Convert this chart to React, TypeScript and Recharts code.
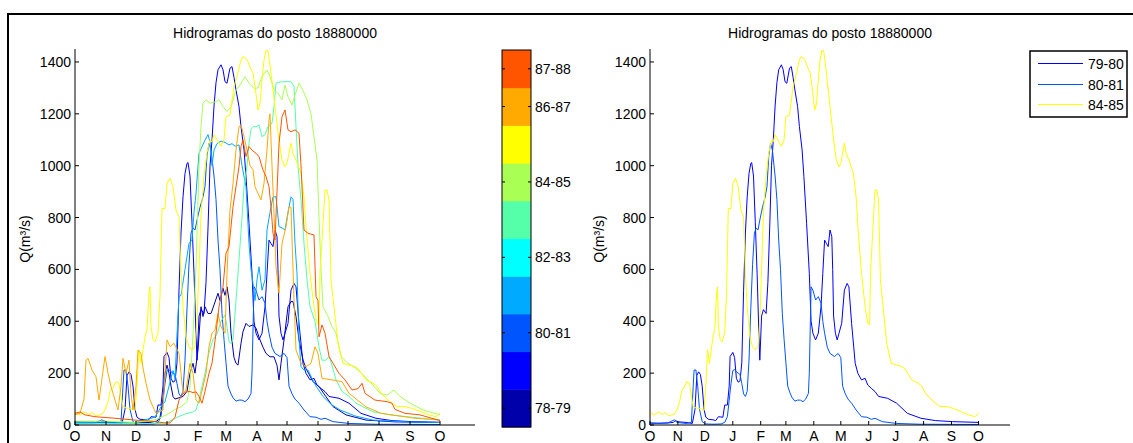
import React from 'react';
import { LineChart, Line, XAxis, YAxis } from 'recharts';

const FONT = '"Liberation Sans", Arial, Helvetica, sans-serif';

const monthTicks = [0, 31, 61, 92, 123, 151, 182, 212, 243, 273, 304, 335, 365];
const monthLabels = ['O', 'N', 'D', 'J', 'F', 'M', 'A', 'M', 'J', 'J', 'A', 'S', 'O'];
const yTicks = [0, 200, 400, 600, 800, 1000, 1200, 1400];
const titleText = 'Hidrogramas do posto 18880000';
const yLabelText = 'Q(m³/s)';

const jet10 = ['#0000AA', '#0000FF', '#0055FF', '#00AAFF', '#00FFFF', '#55FFAA', '#AAFF55', '#FFFF00', '#FFAA00', '#FF5500'];
const cbLabels: [number, string][] = [[0, '78-79'], [2, '80-81'], [4, '82-83'], [6, '84-85'], [8, '86-87'], [9, '87-88']];

// day since 1 Oct, Q (m3/s)
const q7879: [number, number][] = [[0,12],[15,11],[30,10],[45,9],[60,8],[75,10],[82,15],[85,30],[88,100],[90,200],[92,231],[94,200],[96,150],[98,110],[100,100],[104,105],[108,110],[112,130],[115,200],[118,238],[120,200],[123,289],[126,456],[128,418],[130,456],[133,430],[136,430],[139,463],[143,508],[145,480],[148,527],[150,500],[152,533],[154,482],[156,354],[159,260],[161,238],[163,231],[166,315],[168,360],[171,392],[174,380],[178,386],[181,373],[185,328],[188,300],[191,276],[195,263],[199,263],[202,230],[204,174],[206,238],[209,328],[213,456],[216,476],[218,476],[221,418],[224,328],[228,251],[231,218],[238,167],[244,148],[251,109],[258,71],[271,39],[291,19],[320,12],[365,10]];
const q7980: [number, number][] = [[0,8],[10,7],[20,8],[26,10],[28,17],[32,12],[40,10],[47,6],[50,60],[52,190],[54,205],[56,195],[58,150],[60,60],[62,30],[65,22],[70,20],[73,17],[76,32],[81,30],[83,77],[86,77],[88,150],[89,264],[92,280],[94,260],[96,180],[98,165],[100,170],[102,240],[104,520],[106,740],[108,880],[110,970],[112,1009],[113,1012],[115,960],[117,780],[119,585],[121,350],[122,250],[124,420],[126,445],[129,430],[131,550],[133,760],[135,1000],[137,1099],[139,1230],[141,1320],[143,1370],[146,1389],[148,1370],[150,1324],[152,1318],[155,1376],[157,1382],[159,1340],[161,1292],[164,1228],[166,1151],[169,1061],[171,958],[174,778],[177,585],[179,400],[181,354],[184,328],[187,354],[190,456],[192,585],[194,713],[196,700],[198,688],[200,752],[202,726],[203,600],[204,420],[206,354],[208,328],[210,354],[213,392],[216,520],[219,546],[221,533],[224,392],[228,238],[231,199],[235,174],[239,180],[242,154],[246,141],[250,129],[254,110],[264,103],[274,84],[286,45],[301,26],[317,17],[336,13],[365,10]];
const q8081: [number, number][] = [[0,5],[10,6],[20,8],[27,20],[30,10],[40,6],[46,10],[48,150],[49,212],[51,212],[53,150],[55,60],[58,13],[62,4],[70,3],[79,4],[83,10],[86,32],[88,96],[90,160],[92,210],[94,214],[96,205],[98,200],[100,195],[102,160],[104,120],[106,110],[108,130],[110,250],[112,450],[114,620],[116,740],[118,760],[120,752],[122,790],[125,840],[128,880],[130,920],[132,1040],[134,1086],[136,1060],[139,960],[141,870],[143,713],[145,600],[147,430],[149,330],[151,240],[153,150],[156,120],[158,105],[161,92],[164,96],[167,96],[170,90],[173,100],[176,122],[177,200],[179,533],[181,520],[184,482],[187,495],[190,470],[192,400],[194,354],[197,300],[200,276],[205,264],[209,276],[212,260],[214,150],[217,120],[220,100],[224,84],[229,58],[235,32],[241,30],[246,22],[250,26],[258,13],[274,6],[300,3],[365,2]];
const q8182: [number, number][] = [[0,10],[30,8],[60,10],[80,30],[86,70],[90,90],[94,150],[98,210],[100,180],[102,350],[104,495],[106,500],[110,600],[114,700],[117,713],[119,820],[121,893],[124,1048],[127,1073],[130,1099],[133,1120],[135,1090],[137,1000],[139,1060],[142,1085],[146,1095],[150,1090],[154,1080],[157,1085],[160,1075],[164,1080],[167,1000],[171,919],[174,700],[176,600],[178,546],[180,480],[182,560],[184,610],[187,520],[190,560],[192,752],[195,820],[198,880],[201,880],[204,765],[207,760],[210,752],[213,820],[216,880],[218,870],[220,700],[222,585],[224,330],[226,225],[229,212],[233,212],[237,180],[241,150],[248,110],[256,80],[265,58],[280,35],[298,19],[330,12],[365,10]];
const q8384: [number, number][] = [[0,5],[40,5],[80,5],[92,8],[97,20],[105,35],[112,45],[118,50],[121,58],[124,96],[127,150],[130,200],[134,280],[138,330],[142,350],[146,400],[150,424],[152,380],[154,320],[156,315],[158,330],[161,480],[164,636],[167,800],[169,919],[172,1000],[174,1086],[176,1140],[178,1151],[181,1150],[184,1157],[187,1112],[190,1120],[193,1151],[197,1164],[199,1228],[201,1318],[204,1322],[208,1324],[212,1324],[216,1324],[219,1305],[221,1151],[223,1000],[226,868],[229,700],[232,560],[235,456],[240,400],[244,300],[247,250],[251,250],[254,264],[257,230],[261,174],[267,130],[274,110],[281,84],[298,51],[315,39],[332,32],[365,19]];
const q8384b: [number, number][] = [[0,15],[30,15],[60,10],[80,20],[92,40],[100,60],[106,70],[112,90],[115,150],[118,350],[121,610],[124,996],[126,1151],[128,1241],[131,1254],[135,1241],[141,1247],[144,1254],[148,1228],[152,1209],[156,1228],[161,1292],[165,1311],[170,1344],[174,1318],[179,1298],[183,1300],[187,1344],[192,1369],[195,1344],[199,1292],[203,1279],[207,1254],[210,1311],[213,1266],[217,1234],[220,1273],[224,1318],[228,1290],[232,1254],[236,1200],[239,1110],[242,1022],[244,800],[246,600],[248,456],[253,418],[257,380],[261,354],[266,264],[273,238],[281,218],[290,186],[298,154],[305,122],[312,115],[319,135],[325,110],[335,84],[348,58],[365,39]];
const q8485: [number, number][] = [[0,50],[5,38],[9,51],[14,40],[17,48],[21,35],[27,42],[30,58],[33,90],[35,130],[38,145],[41,167],[44,160],[46,110],[48,70],[52,65],[56,64],[60,55],[62,150],[64,290],[66,237],[70,340],[72,370],[74,508],[75,533],[76,380],[78,330],[80,321],[83,354],[85,500],[87,835],[90,835],[92,932],[95,951],[98,919],[101,829],[104,803],[106,585],[108,456],[111,340],[114,300],[117,290],[120,300],[122,400],[124,600],[126,816],[129,960],[132,1050],[135,1099],[137,1092],[139,1120],[142,1100],[146,1075],[149,1100],[151,1189],[155,1196],[159,1305],[163,1360],[166,1408],[168,1421],[172,1410],[175,1380],[178,1357],[180,1305],[183,1215],[185,1240],[187,1331],[189,1408],[191,1444],[193,1444],[196,1357],[200,1228],[204,1099],[207,1022],[210,996],[212,1009],[216,1086],[218,1048],[221,1022],[226,971],[229,880],[231,765],[235,585],[239,456],[242,392],[244,386],[245,585],[248,778],[250,906],[252,906],[254,868],[256,559],[259,456],[263,315],[268,238],[274,231],[278,228],[283,218],[291,174],[298,161],[302,150],[306,122],[315,90],[322,71],[330,71],[337,64],[346,51],[354,39],[361,32],[365,45]];
const q8687: [number, number][] = [[0,40],[5,45],[9,100],[11,250],[13,257],[17,212],[21,186],[24,96],[27,180],[30,264],[33,200],[36,148],[40,96],[43,58],[46,150],[48,257],[51,199],[54,250],[56,122],[58,58],[61,150],[63,289],[66,276],[68,220],[71,161],[75,96],[81,45],[88,58],[90,200],[92,328],[95,302],[99,315],[101,300],[104,276],[106,199],[108,122],[111,135],[115,238],[118,199],[121,96],[124,84],[128,148],[131,199],[134,302],[137,354],[140,366],[143,430],[146,379],[150,354],[152,585],[155,829],[158,932],[161,1061],[164,1151],[166,1157],[169,1112],[172,1061],[175,1000],[178,984],[180,919],[183,893],[186,868],[189,932],[192,1061],[194,1176],[195,1200],[197,1000],[199,816],[201,610],[204,508],[207,700],[211,765],[214,842],[216,840],[219,482],[221,289],[226,238],[231,225],[236,238],[240,302],[243,276],[247,180],[257,174],[267,167],[274,122],[291,70],[306,45],[340,26],[365,19]];
const q8788: [number, number][] = [[0,45],[5,50],[10,39],[20,32],[40,26],[60,19],[80,13],[90,8],[95,8],[100,30],[104,96],[108,120],[111,128],[115,129],[118,125],[121,128],[124,110],[127,84],[130,130],[134,199],[137,238],[141,354],[144,456],[148,533],[151,662],[154,688],[158,842],[161,919],[164,996],[166,1074],[168,1099],[171,1035],[174,1074],[177,1060],[181,1048],[184,1035],[188,983],[191,958],[194,919],[196,842],[198,739],[200,713],[202,900],[204,1086],[207,1189],[210,1215],[213,1138],[216,1131],[220,1138],[224,1125],[226,1000],[229,752],[233,739],[239,733],[241,495],[243,480],[244,340],[247,386],[250,354],[254,264],[258,238],[264,199],[270,174],[277,135],[283,140],[287,161],[290,122],[300,96],[312,90],[317,84],[320,60],[330,45],[345,39],[365,17]];

type Pt = { d: number; q: number };
const toPts = (a: [number, number][]): Pt[] => a.map(([d, q]) => ({ d, q }));

const leftSeries = [
  { name: '78-79', color: jet10[0], data: toPts(q7879) },
  { name: '79-80', color: jet10[1], data: toPts(q7980) },
  { name: '80-81', color: jet10[2], data: toPts(q8081) },
  { name: '81-82', color: jet10[3], data: toPts(q8182) },
  { name: '83-84', color: jet10[5], data: toPts(q8384) },
  { name: '83-84b', color: jet10[6], data: toPts(q8384b) },
  { name: '84-85', color: jet10[7], data: toPts(q8485) },
  { name: '86-87', color: jet10[8], data: toPts(q8687) },
  { name: '87-88', color: jet10[9], data: toPts(q8788) },
];
const rightSeries = [
  { name: '79-80', color: '#0000FF', data: toPts(q7980) },
  { name: '80-81', color: '#0055FF', data: toPts(q8081) },
  { name: '84-85', color: '#FFFF00', data: toPts(q8485) },
];

const XTick = (props: any) => {
  const { x, y, payload } = props;
  const i = monthTicks.indexOf(payload.value);
  return (
    <g>
      <line x1={x} x2={x} y1={y} y2={y - 4} stroke="#000" />
      <text x={x} y={y + 16} textAnchor="middle" fontSize={14} fontFamily={FONT} fill="#000">{monthLabels[i]}</text>
    </g>
  );
};
const YTick = (props: any) => {
  const { x, y, payload } = props;
  return (
    <g>
      <line x1={x} x2={x + 4} y1={y} y2={y} stroke="#000" />
      <text x={x - 4} y={y + 5} textAnchor="end" fontSize={14} fontFamily={FONT} fill="#000">{payload.value}</text>
    </g>
  );
};

function Hydro({ series, width, yw, mr }: { series: { name: string; color: string; data: Pt[] }[]; width: number; yw: number; mr: number }) {
  return (
    <LineChart width={width} height={443} margin={{ top: 49, right: mr, bottom: 0, left: 0 }}>
      <XAxis type="number" dataKey="d" domain={[0, 400]} ticks={monthTicks} interval={0} tick={(p: any) => <XTick {...p} />} tickSize={0} tickMargin={0} height={18} axisLine={{ stroke: '#000' }} tickLine={false} allowDataOverflow />
      <YAxis type="number" dataKey="q" domain={[0, 1450]} ticks={yTicks} interval={0} tick={(p: any) => <YTick {...p} />} tickSize={0} tickMargin={0} width={yw} axisLine={{ stroke: '#000' }} tickLine={false} allowDataOverflow />
      {series.map((s) => (
        <Line key={s.name} data={s.data} dataKey="q" type="linear" stroke={s.color} strokeWidth={1} dot={false} activeDot={false} isAnimationActive={false} />
      ))}
    </LineChart>
  );
}

export default function App() {
  const cbX = 502, cbY = 50, cbW = 29, cbH = 377;
  const segH = cbH / jet10.length;
  const legendRows = [63.5, 84.5, 104.5];
  return (
    <div style={{ position: 'absolute', left: 0, top: 0, width: 1133, height: 443, overflow: 'hidden', background: '#fff' }}>
      <div style={{ position: 'absolute', left: 0, top: 0 }}>
        <Hydro series={leftSeries} width={480} yw={75} mr={5} />
      </div>
      <div style={{ position: 'absolute', left: 560, top: 0 }}>
        <Hydro series={rightSeries} width={460} yw={90} mr={10} />
      </div>
      <svg width={1133} height={443} style={{ position: 'absolute', left: 0, top: 0, pointerEvents: 'none' }}>
        <line x1={7} x2={1133} y1={14} y2={14} stroke="#000" strokeWidth={2} />
        <line x1={8} x2={8} y1={13} y2={443} stroke="#000" strokeWidth={2} />
        <text x={275} y={38} textAnchor="middle" fontSize={14} fontFamily={FONT} fill="#000">{titleText}</text>
        <text x={830} y={38} textAnchor="middle" fontSize={14} fontFamily={FONT} fill="#000">{titleText}</text>
        <text x={30} y={239} transform="rotate(-90 30 239)" textAnchor="middle" fontSize={14} fontFamily={FONT} fill="#000">{yLabelText}</text>
        <text x={604} y={239} transform="rotate(-90 604 239)" textAnchor="middle" fontSize={14} fontFamily={FONT} fill="#000">{yLabelText}</text>
        {jet10.map((c, i) => (
          <rect key={c} x={cbX} y={cbY + cbH - (i + 1) * segH} width={cbW} height={segH + 0.5} fill={c} />
        ))}
        <rect x={cbX} y={cbY} width={cbW} height={cbH} fill="none" stroke="#000" strokeWidth={1} />
        {cbLabels.map(([i, t]) => {
          const cy = cbY + cbH - (i + 0.5) * segH;
          return (
            <g key={t}>
              <line x1={cbX} x2={cbX + 3} y1={cy} y2={cy} stroke="#000" />
              <line x1={cbX + cbW - 3} x2={cbX + cbW} y1={cy} y2={cy} stroke="#000" />
              <text x={cbX + cbW + 4} y={cy + 5} fontSize={14} fontFamily={FONT} fill="#000">{t}</text>
            </g>
          );
        })}
        <rect x={1030} y={51} width={97} height={66} fill="#fff" stroke="#000" strokeWidth={1.5} />
        {rightSeries.map((s, i) => {
          const ry = legendRows[i];
          return (
            <g key={s.name}>
              <line x1={1038} x2={1083} y1={ry} y2={ry} stroke={s.color} strokeWidth={1} />
              <text x={1088} y={ry + 5} fontSize={14} fontFamily={FONT} fill="#000">{s.name}</text>
            </g>
          );
        })}
      </svg>
    </div>
  );
}
